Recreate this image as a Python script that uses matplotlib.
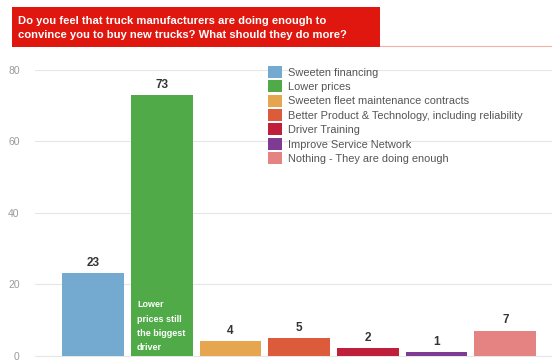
import matplotlib.pyplot as plt
from matplotlib.patches import Rectangle
from matplotlib.lines import Line2D

# survey answers and counts
answers = ['Sweeten financing', 'Lower prices', 'Sweeten fleet maintenance contracts',
           'Better Product & Technology, including reliability', 'Driver Training',
           'Improve Service Network', 'Nothing - They are doing enough']
counts = [23, 73, 4, 5, 2, 1, 7]
colors = ['#74aacf', '#4faa47', '#e6a650', '#dc5b3b', '#c01f3c', '#7d3b93', '#e58383']
y_ticks = [0, 20, 40, 60, 80]

title = ('Do you feel that truck manufacturers are doing enough to\n'
         'convince you to buy new trucks? What should they do more?')
note = 'Lower\nprices still\nthe biggest\ndriver'

plt.rcParams['font.family'] = ['Liberation Sans', 'DejaVu Sans']

fig = plt.figure(figsize=(5.52, 3.62), dpi=100)
ax = fig.add_axes([35 / 552, 0, 1 - 35 / 552, (362 - 70) / 362])

x = list(range(len(counts)))
ax.bar(x, counts, width=0.9, color=colors, zorder=2)
ax.set_xlim(-0.845, 6.68)
ax.set_ylim(-1.8, 80)

# value labels above bars
for xi, c in zip(x, counts):
    ax.annotate(str(c), (xi, c), xytext=(0, 3), textcoords='offset points',
                ha='center', va='bottom', fontsize=8.5, fontweight='bold', color='#333333')

# note inside the tallest bar
ax.text(0.64, 1.0, note, ha='left', va='bottom', fontsize=6.5, fontweight='bold',
        color='white', linespacing=1.75, zorder=3)

ax.set_yticks(y_ticks)
ax.set_xticks([])
ax.grid(axis='y', color='#e6e6e6', linewidth=0.8, zorder=0)
ax.tick_params(axis='y', length=0, labelsize=7.5, labelcolor='#9a9a9a', pad=11)
for s in ax.spines.values():
    s.set_visible(False)

# legend
handles = [Rectangle((0, 0), 1, 1, facecolor=c, edgecolor='none') for c in colors]
leg = fig.legend(handles, answers, loc='upper left', bbox_to_anchor=(268 / 552, 1 - 66 / 362),
                 frameon=False, fontsize=7.9, handlelength=1.3, handleheight=1.3,
                 handletextpad=0.55, labelspacing=0.22, borderaxespad=0, borderpad=0)
for t in leg.get_texts():
    t.set_color('#555555')

# title banner
fig.patches.append(Rectangle((12 / 552, 1 - 47 / 362), (380 - 12) / 552, 40 / 362,
                             transform=fig.transFigure, facecolor='#e0170f',
                             edgecolor='none', zorder=5))
fig.lines.append(Line2D([380 / 552, 1], [1 - 46 / 362, 1 - 46 / 362],
                        transform=fig.transFigure, color='#f2b0aa', linewidth=0.8))
fig.text(18 / 552, 1 - 28 / 362, title, ha='left', va='center', fontsize=8.1,
         fontweight='bold', color='white', linespacing=1.55, zorder=6)

fig.savefig('out.png', dpi=100)
